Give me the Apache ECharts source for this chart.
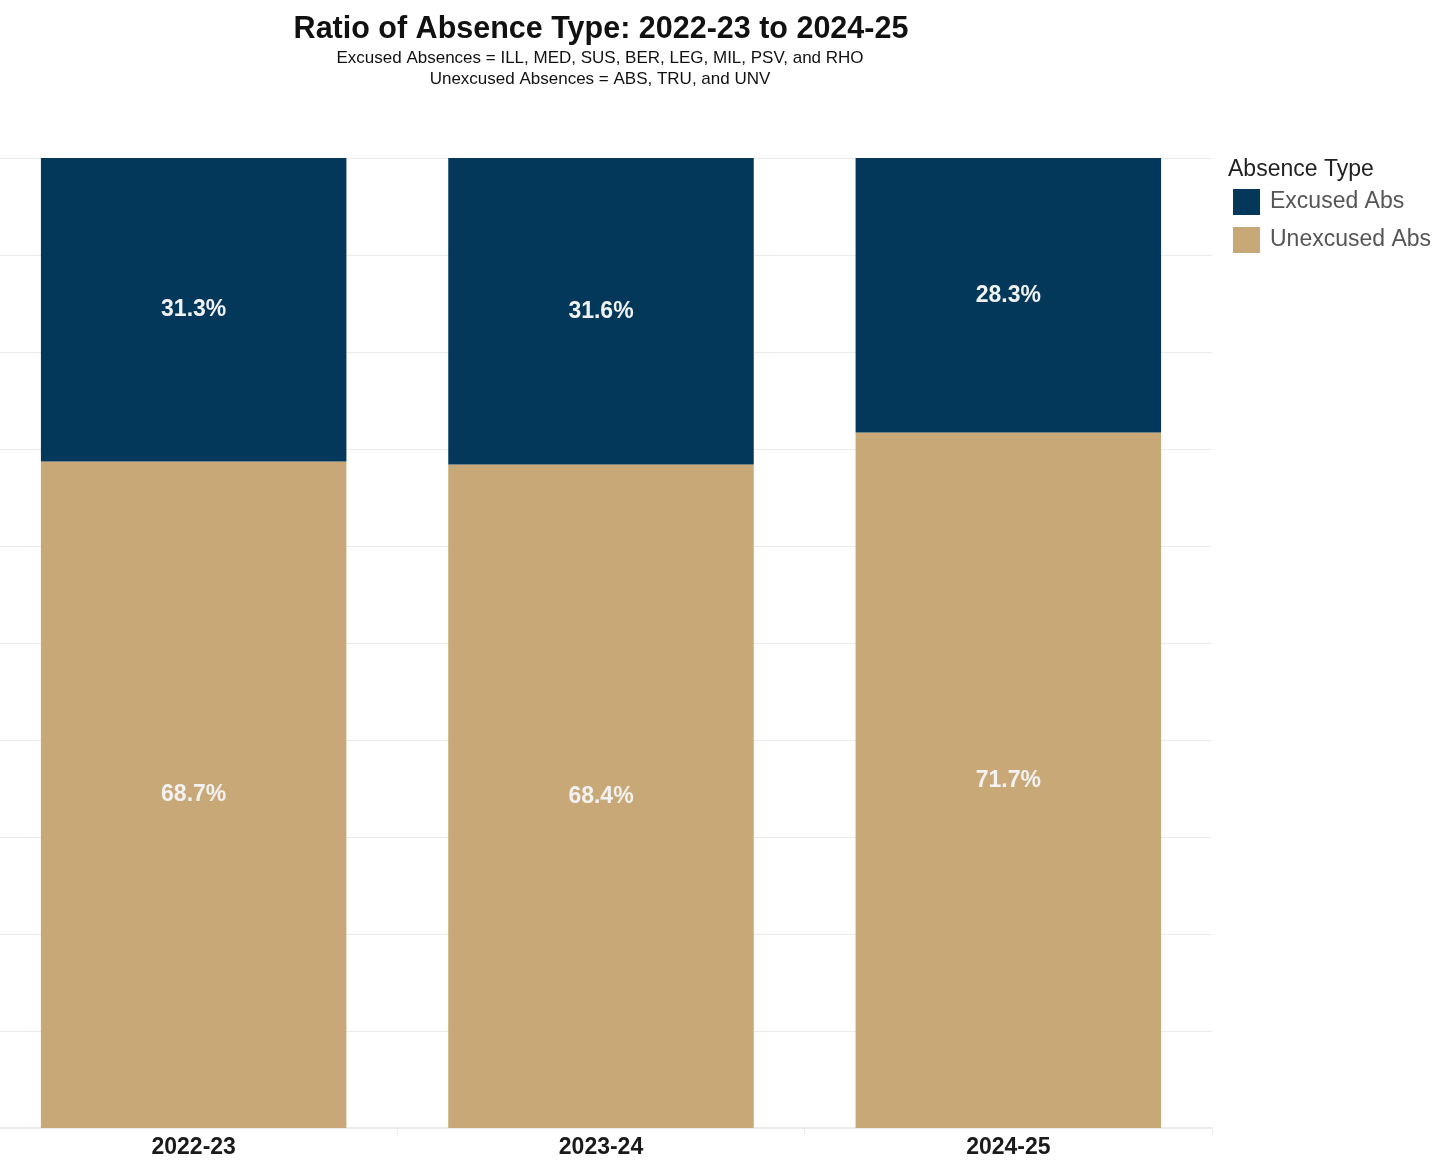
<!DOCTYPE html>
<html>
<head>
<meta charset="utf-8">
<script src="https://cdn.jsdelivr.net/npm/echarts@6/dist/echarts.min.js"></script>
<style>
  html, body { margin: 0; padding: 0; background: #fff; overflow: hidden; }
  /* plot area starts just left of the visible page, like the original */
  #chart { position: absolute; left: -10px; top: 0; width: 1463px; height: 1171px; }
</style>
</head>
<body>
<div id="chart"></div>
<script>
// school years
const years = ['2022-23', '2023-24', '2024-25'];
// percent of absences
const excused = [31.3, 31.6, 28.3];
const unexcused = [68.7, 68.4, 71.7];
const yTicks = [0, 10, 20, 30, 40, 50, 60, 70, 80, 90, 100];

const FONT = '"Liberation Sans", Arial, sans-serif';

let myChart = echarts.init(document.getElementById('chart'));

let labelOpt = {
  show: true,
  position: 'inside',
  color: '#f2f2f2',
  fontFamily: FONT,
  fontWeight: 'bold',
  fontSize: 23,
  formatter: p => p.value.toFixed(1) + '%'
};

myChart.setOption({
  animation: false,
  title: [
    {
      text: 'Ratio of Absence Type: 2022-23 to 2024-25',
      left: 606,
      top: 9,
      textAlign: 'center',
      textStyle: { fontFamily: FONT, fontWeight: 'bold', fontSize: 30.5, color: '#111' }
    },
    {
      text: 'Excused Absences = ILL, MED, SUS, BER, LEG, MIL, PSV, and RHO\nUnexcused Absences = ABS, TRU, and UNV',
      left: 605,
      top: 43,
      textAlign: 'center',
      textStyle: { fontFamily: FONT, fontSize: 17, fontWeight: 'normal', color: '#111', lineHeight: 21 }
    },
    {
      // legend title
      text: 'Absence Type',
      left: 1233,
      top: 153,
      textStyle: { fontFamily: FONT, fontSize: 23, fontWeight: 'normal', color: '#222' }
    }
  ],
  legend: {
    data: ['Excused Abs', 'Unexcused Abs'],
    orient: 'vertical',
    left: 1238,
    top: 184,
    itemWidth: 27,
    itemHeight: 26,
    itemGap: 12,
    icon: 'rect',
    textStyle: { fontFamily: FONT, fontSize: 23, color: '#555', padding: [0, 0, 0, 5] }
  },
  grid: {
    left: 0,
    top: 158,
    width: 1222,
    height: 970,
    containLabel: false
  },
  xAxis: {
    type: 'category',
    data: years,
    axisLine: { show: true, lineStyle: { color: '#ebebeb', width: 2 } },
    axisTick: { show: true, length: 6, lineStyle: { color: '#ebebeb' } },
    axisLabel: {
      margin: 8,
      fontFamily: FONT,
      fontWeight: 'bold',
      fontSize: 23,
      color: '#1a1a1a'
    }
  },
  yAxis: {
    type: 'value',
    min: yTicks[0],
    max: yTicks[yTicks.length - 1],
    interval: 10,
    axisLabel: { show: false },
    axisLine: { show: false },
    axisTick: { show: false },
    splitLine: { show: true, lineStyle: { color: '#ebebeb', width: 1 } }
  },
  series: [
    {
      name: 'Unexcused Abs',
      type: 'bar',
      stack: 'abs',
      barWidth: '75%',
      data: unexcused,
      itemStyle: { color: '#c9a877' },
      label: labelOpt
    },
    {
      name: 'Excused Abs',
      type: 'bar',
      stack: 'abs',
      barWidth: '75%',
      data: excused,
      itemStyle: { color: '#03385b' },
      label: labelOpt
    }
  ]
});
</script>
</body>
</html>
